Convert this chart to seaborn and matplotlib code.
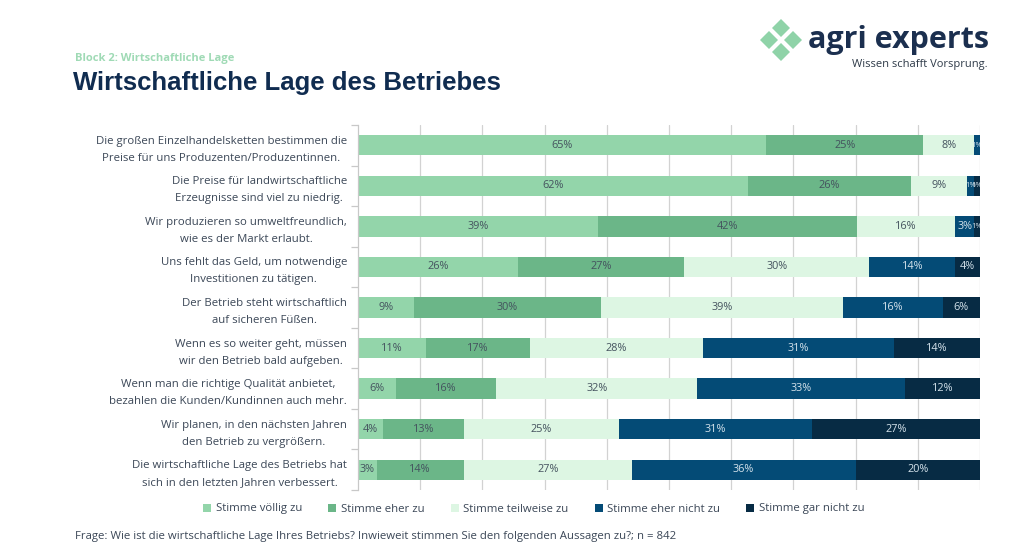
import seaborn as sns
import matplotlib.pyplot as plt
import numpy as np
import pandas as pd
from matplotlib.patches import Patch, RegularPolygon

# Aussagen (y-Achse)
statements = [
    "Die großen Einzelhandelsketten bestimmen die\nPreise für uns Produzenten/Produzentinnen.",
    "Die Preise für landwirtschaftliche\nErzeugnisse sind viel zu niedrig.",
    "Wir produzieren so umweltfreundlich,\nwie es der Markt erlaubt.",
    "Uns fehlt das Geld, um notwendige\nInvestitionen zu tätigen.",
    "Der Betrieb steht wirtschaftlich\nauf sicheren Füßen.",
    "Wenn es so weiter geht, müssen\nwir den Betrieb bald aufgeben.",
    "Wenn man die richtige Qualität anbietet,\nbezahlen die Kunden/Kundinnen auch mehr.",
    "Wir planen, in den nächsten Jahren\nden Betrieb zu vergrößern.",
    "Die wirtschaftliche Lage des Betriebs hat\nsich in den letzten Jahren verbessert.",
]
answers = ["Stimme völlig zu", "Stimme eher zu", "Stimme teilweise zu",
           "Stimme eher nicht zu", "Stimme gar nicht zu"]

voellig = [65, 62, 39, 26, 9, 11, 6, 4, 3]
eher = [25, 26, 42, 27, 30, 17, 16, 13, 14]
teilweise = [8, 9, 16, 30, 39, 28, 32, 25, 27]
eher_nicht = [1, 1, 3, 14, 16, 31, 33, 31, 36]
gar_nicht = [0, 1, 1, 4, 6, 14, 12, 27, 20]

colors = ["#93D5AA", "#6BB688", "#DDF6E3", "#044B76", "#072B44"]
text_colors = ["#44525E", "#44525E", "#44525E", "#D5E3EC", "#D5E3EC"]

vals = np.array([voellig, eher, teilweise, eher_nicht, gar_nicht], dtype=float)
norm = vals / vals.sum(axis=0) * 100
cum = norm.cumsum(axis=0)

df = pd.DataFrame({"statement": statements})
for k in range(5):
    df[f"cum{k}"] = cum[k]

font = ["Open Sans", "DejaVu Sans"]
sns.set_theme(style="white")
plt.rcParams["font.family"] = font

fig = plt.figure(figsize=(10.24, 5.52), dpi=100)
ax = fig.add_axes([358 / 1024, 62 / 552, 622 / 1024, 365 / 552])

# gestapelte Balken: kumulierte Summen von hinten nach vorne
for k in range(4, -1, -1):
    sns.barplot(data=df, x=f"cum{k}", y="statement", order=statements,
                color=colors[k], saturation=1, width=0.5, linewidth=0,
                orient="y", ax=ax, zorder=2)

# Prozentwerte in den Segmenten
for k in range(5):
    for i in range(len(statements)):
        if vals[k, i] == 0:
            continue
        small = norm[k, i] < 2
        ax.text(cum[k, i] - norm[k, i] / 2, i, f"{int(vals[k, i])}%",
                ha="center", va="center", fontsize=5.5 if small else 7.8,
                color=text_colors[k], zorder=3, clip_on=True)

ax.set_xlim(0, 100)
ax.set_ylim(len(statements) - 0.5, -0.5)
ax.set_xticks(np.arange(10, 101, 10))
ax.set_xticklabels([])
ax.tick_params(axis="x", length=0)
ax.grid(axis="x", color="#D2D2D2", linewidth=0.9, zorder=0)
ax.set_axisbelow(True)
ax.set_xlabel("")
ax.set_ylabel("")
sns.despine(ax=ax, top=True, right=True, bottom=True)
ax.spines["left"].set_color("#C8C8C8")
ax.spines["left"].set_linewidth(0.9)

ax.set_yticks(np.arange(-0.5, len(statements), 1), minor=True)
ax.tick_params(axis="y", which="major", length=0, pad=8,
               labelsize=8.2, labelcolor="#3B4757")
ax.tick_params(axis="y", which="minor", length=5, color="#C8C8C8", width=0.9,
               left=True)
plt.setp(ax.get_yticklabels(), multialignment="center", linespacing=1.75)

# Kopfzeile
fig.text(75 / 1024, 1 - 58 / 552, "Block 2: Wirtschaftliche Lage",
         fontsize=8, fontweight="bold", color="#9FDAB5", va="center",
         family=font)
fig.text(73 / 1024, 1 - 83 / 552, "Wirtschaftliche Lage des Betriebes",
         fontsize=18.5, fontweight="bold", color="#102C50", va="center",
         family=["Liberation Sans", "DejaVu Sans"])

# Logo
lax = fig.add_axes([0, 0, 1, 1], zorder=5)
lax.set_xlim(0, 1024)
lax.set_ylim(552, 0)
lax.axis("off")
for cx, cy in [(781, 28), (769, 40), (793, 40), (781, 52)]:
    lax.add_patch(RegularPolygon((cx, cy), numVertices=4, radius=9,
                                 color="#8FD3A8", linewidth=0))
fig.text(808 / 1024, 1 - 40 / 552, "agri experts", fontsize=22,
         fontweight="bold", color="#1B2F4F", va="center", family=font)
fig.text(988 / 1024, 1 - 65 / 552, "Wissen schafft Vorsprung.", fontsize=8,
         color="#2E3A48", va="center", ha="right", family=font)

# Legende
handles = [Patch(facecolor=c, edgecolor="none") for c in colors]
fig.legend(handles, answers, loc="center", bbox_to_anchor=(534 / 1024, 1 - 509 / 552),
           ncol=5, frameon=False, fontsize=8.2, handlelength=0.7, handleheight=0.7,
           handletextpad=0.4, columnspacing=2.3, labelcolor="#3B4757")

fig.text(75 / 1024, 1 - 537 / 552,
         "Frage: Wie ist die wirtschaftliche Lage Ihres Betriebs? Inwieweit stimmen Sie den folgenden Aussagen zu?; n = 842",
         fontsize=8.2, color="#3B4757", va="center", family=font)

fig.savefig("out.png", dpi=100)
